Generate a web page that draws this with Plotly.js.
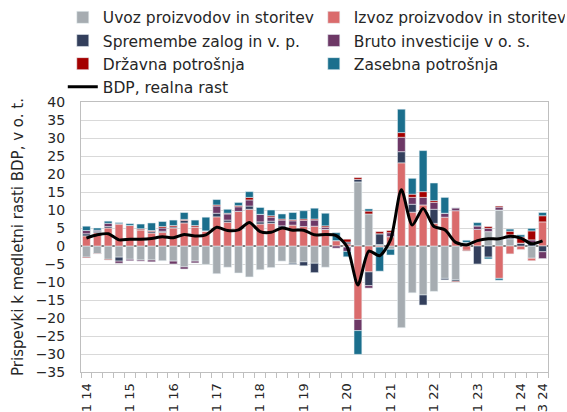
<!DOCTYPE html>
<html>
<head>
<meta charset="utf-8">
<script src="https://cdn.plot.ly/plotly-3.0.1.min.js"></script>
<style>html,body{margin:0;padding:0;background:#fff;}</style>
</head>
<body>
<div id="chart" style="width:567px;height:412px;"></div>
<script>
const quarters = ['1 14','2 14','3 14','4 14','1 15','2 15','3 15','4 15','1 16','2 16','3 16','4 16',
  '1 17','2 17','3 17','4 17','1 18','2 18','3 18','4 18','1 19','2 19','3 19','4 19',
  '1 20','2 20','3 20','4 20','1 21','2 21','3 21','4 21','1 22','2 22','3 22','4 22',
  '1 23','2 23','3 23','4 23','1 24','2 24','3 24'];

const seriesNames = ['Uvoz proizvodov in storitev','Izvoz proizvodov in storitev','Spremembe zalog in v. p.',
  'Bruto investicije v o. s.','Državna potrošnja','Zasebna potrošnja'];
const lineName = 'BDP, realna rast';

const uvoz = [-3.1,-2.1,-3.7,-3.1,-3.7,-3.9,-3.9,-4.1,-4.2,-5.8,-4.2,-5.1,-7.7,-5.9,-7.5,-8.6,-6.6,-6.0,-4.2,-4.8,-4.4,-4.8,-5.9,0.0,-0.3,17.8,8.9,0.4,-0.9,-22.7,-13.0,-13.6,-12.6,-9.0,-9.4,1.0,0.0,4.0,10.0,2.0,0.0,-3.4,0.0];
const izvoz = [2.8,3.7,5.0,6.0,5.7,4.5,3.6,3.8,5.0,6.4,5.3,4.2,8.1,6.6,9.6,10.2,6.1,6.3,5.0,5.8,5.4,5.5,4.6,1.5,0.6,-20.4,-7.2,-0.3,2.6,23.1,9.4,11.4,6.3,8.0,9.8,-1.2,4.6,0.0,-9.0,-2.2,-1.0,-0.7,6.7];
const zalog = [0.6,0.4,0.4,-1.1,0.0,0.0,0.4,0.3,0.3,0.7,0.0,0.0,1.0,0.6,0.0,0.9,0.6,0.6,0.6,-0.3,-1.1,-2.6,0.0,0.0,0.5,0.7,-3.8,3.0,0.0,3.1,2.2,-2.8,3.9,-0.4,-0.4,0.0,-5.0,-3.1,0.0,0.4,0.8,0.8,-1.6];
const bruto = [0.9,0.3,0.9,-0.6,-0.4,-0.3,-0.5,0.9,-0.8,-0.6,-0.5,0.0,2.0,1.7,1.3,1.7,2.1,1.1,1.6,1.2,1.7,1.7,0.6,-0.6,-1.2,-3.1,-0.7,0.0,1.1,4.0,1.9,2.1,1.9,1.1,0.8,0.0,1.0,0.9,0.8,0.7,0.0,0.9,-1.9];
const drzavna = [-0.2,-0.1,-0.2,0.2,0.0,0.3,0.3,0.4,0.4,0.3,0.4,0.0,0.3,0.2,0.3,0.7,0.0,0.4,0.3,0.3,0.4,0.3,0.4,0.0,0.8,0.5,0.8,0.6,0.6,1.3,0.9,1.6,0.5,0.0,-0.2,-0.2,0.0,0.5,0.3,1.0,1.7,2.5,1.7];
const zasebna = [1.2,0.6,0.6,0.3,0.5,1.3,2.1,1.4,1.5,1.9,1.5,3.8,1.5,1.1,0.9,1.6,1.9,1.6,1.4,2.0,2.3,3.0,3.5,2.2,-1.5,-6.6,0.6,-6.7,-1.6,6.5,4.4,11.4,4.9,4.4,0.0,0.6,0.9,-0.5,-0.5,0.6,0.6,0.7,0.9];
const bdp = [2.2,3.1,3.4,1.7,1.9,1.9,2.1,2.6,2.3,3.2,2.8,3.1,5.2,4.3,4.5,6.5,4.0,3.8,5.0,4.4,4.4,3.1,3.2,2.9,-0.2,-10.8,-1.4,-2.7,1.7,15.6,5.8,10.4,5.4,4.5,1.0,0.3,1.5,2.0,2.0,2.7,2.2,0.6,1.4];

const colors = ['#A6ACB1','#DA6B6C','#333F5C','#6D3866','#A40000','#1B6F8D'];
const seriesValues = [uvoz, izvoz, zalog, bruto, drzavna, zasebna];

const xIdx = quarters.map((q, i) => i);
const tickIdx = xIdx.filter(i => quarters[i].startsWith('1 ') || i === quarters.length - 1);

const traces = seriesValues.map((vals, k) => ({
  type: 'bar',
  name: seriesNames[k],
  x: xIdx,
  y: vals,
  marker: {color: colors[k], line: {width: 0.6, color: 'rgba(235,242,246,0.9)'}},
  hoverinfo: 'x+y+name'
}));
traces.push({
  type: 'scatter',
  mode: 'lines',
  name: lineName,
  x: xIdx,
  y: bdp,
  line: {color: '#000000', width: 3, shape: 'spline', smoothing: 0.7}
});

const FONT = 'DejaVu Sans, Liberation Sans, Arial, sans-serif';
const layout = {
  width: 567, height: 412,
  margin: {l: 81, r: 19, t: 102, b: 40, pad: 0, autoexpand: false},
  paper_bgcolor: '#ffffff', plot_bgcolor: '#ffffff',
  barmode: 'relative', bargap: 0.28,
  font: {family: FONT, size: 15, color: '#262626'},
  showlegend: true,
  legend: {
    orientation: 'h', traceorder: 'normal',
    x: -0.039, xanchor: 'left', y: 1.375, yanchor: 'top',
    entrywidth: 206, entrywidthmode: 'pixels',
    font: {family: FONT, size: 15.5, color: '#262626'},
    bgcolor: 'rgba(0,0,0,0)', borderwidth: 0
  },
  xaxis: {
    range: [-0.5, quarters.length - 0.5],
    tickmode: 'array', tickvals: tickIdx, ticktext: tickIdx.map(i => quarters[i]),
    tickangle: -90, ticks: '', ticklabelstandoff: 5,
    tickfont: {family: FONT, size: 13, color: '#262626'},
    showgrid: false, zeroline: false,
    showline: true, linecolor: '#BFBFBF', linewidth: 1, mirror: true,
    minor: {tickmode: 'linear', tick0: -0.5, dtick: 1, ticks: 'outside', ticklen: 5, tickcolor: '#BFBFBF', tickwidth: 1, showgrid: false},
    fixedrange: true
  },
  yaxis: {
    range: [-35, 40], tickmode: 'linear', tick0: 0, dtick: 5,
    ticks: '', ticklabelstandoff: 12,
    tickfont: {family: FONT, size: 14, color: '#262626'},
    showgrid: true, gridcolor: '#D9D9D9', gridwidth: 1,
    zeroline: true, zerolinecolor: '#808080', zerolinewidth: 1.5,
    showline: true, linecolor: '#BFBFBF', linewidth: 1, mirror: true,
    title: {text: 'Prispevki k medletni rasti BDP, v o. t.', font: {family: FONT, size: 15, color: '#262626'}, standoff: 8},
    fixedrange: true
  }
};

Plotly.newPlot('chart', traces, layout, {displayModeBar: false, staticPlot: true});
</script>
</body>
</html>
